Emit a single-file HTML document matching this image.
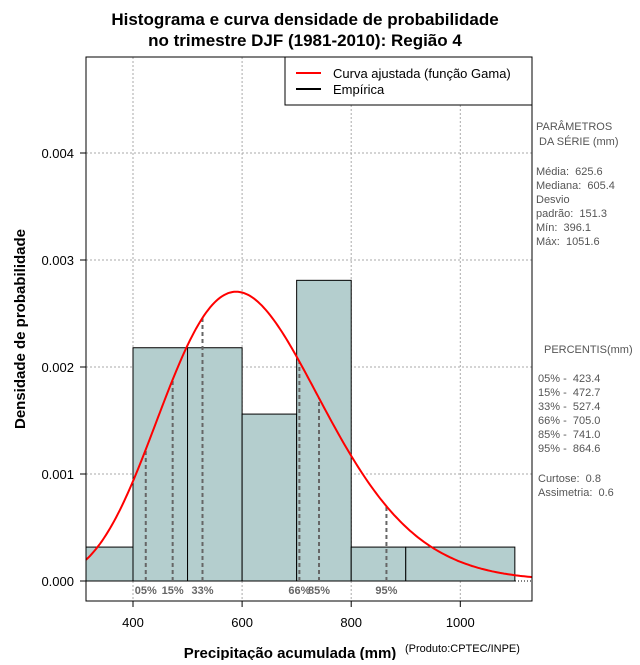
<!DOCTYPE html>
<html><head><meta charset="utf-8">
<style>
body{margin:0;background:#fff;font-family:"Liberation Sans",sans-serif;}
svg text{font-family:"Liberation Sans",sans-serif;white-space:pre;}
</style></head>
<body>
<svg id="c" width="640" height="660" xmlns="http://www.w3.org/2000/svg">
<text x="305" y="25" text-anchor="middle" font-size="17" font-weight="bold">Histograma e curva densidade de probabilidade</text>
<text x="305" y="46" text-anchor="middle" font-size="17" font-weight="bold">no trimestre DJF (1981-2010): Região 4</text>
<text x="290" y="658" text-anchor="middle" font-size="15" font-weight="bold">Precipitação acumulada (mm)</text>
<text x="405" y="652" font-size="11">(Produto:CPTEC/INPE)</text>
<text transform="translate(25,329) rotate(-90)" text-anchor="middle" font-size="15" font-weight="bold">Densidade de probabilidade</text>
<g id="grid"></g><g id="bars"></g><g id="pct"></g><g id="curve"></g><g id="axes"></g>
<g>
<rect x="285" y="57" width="247" height="48" fill="#fff" stroke="#000"/>
<line x1="296" y1="73" x2="321" y2="73" stroke="red" stroke-width="2"/>
<text x="333" y="78" font-size="13">Curva ajustada (função Gama)</text>
<line x1="296" y1="89" x2="321" y2="89" stroke="#000" stroke-width="2"/>
<text x="333" y="94" font-size="13">Empírica</text>
</g>
<g font-size="11" fill="#555">
<text x="536" y="130">PARÂMETROS</text><text x="536" y="145"> DA SÉRIE (mm)</text>
<text x="536" y="175">Média:  625.6</text><text x="536" y="189">Mediana:  605.4</text>
<text x="536" y="203">Desvio</text><text x="536" y="217">padrão:  151.3</text>
<text x="536" y="231">Mín:  396.1</text><text x="536" y="245">Máx:  1051.6</text>
<text x="544" y="353">PERCENTIS(mm)</text>
<text x="538" y="382">05% -  423.4</text><text x="538" y="396">15% -  472.7</text>
<text x="538" y="410">33% -  527.4</text><text x="538" y="424">66% -  705.0</text>
<text x="538" y="438">85% -  741.0</text><text x="538" y="452">95% -  864.6</text>
<text x="538" y="482">Curtose:  0.8</text><text x="538" y="496">Assimetria:  0.6</text>
</g>
</svg>
<script>
const binStarts=[300,400,500,600,700,800,900];
const binEnds=[400,500,600,700,800,900,1100];
const densities=[0.000317,0.00218,0.00218,0.00156,0.00281,0.000317,0.000317];
const pctNames=["05%","15%","33%","66%","85%","95%"];
const pctValues=[423.4,472.7,527.4,705.0,741.0,864.6];
const fitMean=[625.6];const fitSd=[151.3];
const xTicks=[400,600,800,1000];
const yTicks=[0,0.001,0.002,0.003,0.004];
const yTickLabels=["0.000","0.001","0.002","0.003","0.004"];
const L=86,R=532,T=57,B=601;
const X=v=>133+(v-400)*0.5455;
const Y=v=>581-v*107000;
const NS="http://www.w3.org/2000/svg";
function mk(p,t,a){const e=document.createElementNS(NS,t);for(const k in a)e.setAttribute(k,a[k]);document.getElementById(p).appendChild(e);return e;}
for(const t of xTicks){const e=mk('grid','line',{x1:X(t),x2:X(t),y1:T,y2:B,stroke:'#aaa','stroke-dasharray':'2,2'});

}
for(const t of yTicks.slice(1)){const e=mk('grid','line',{x1:L,x2:R,y1:Y(t),y2:Y(t),stroke:'#aaa','stroke-dasharray':'2,2'});

}
binStarts.forEach((s,i)=>{const x0=Math.max(X(s),L),x1=X(binEnds[i]);
const e=mk('bars','rect',{x:x0,y:Y(densities[i]),width:x1-x0,height:Y(0)-Y(densities[i]),fill:'#b4cece',stroke:'#000','stroke-width':1});

});
const z=mk('bars','line',{x1:L,x2:R,y1:Y(0),y2:Y(0),stroke:'#000','stroke-dasharray':'1,2'});


const k=Math.pow(fitMean[0]/fitSd[0],2),th=fitSd[0]*fitSd[0]/fitMean[0];
function lgamma(z){const c=[76.18009172947146,-86.50532032941677,24.01409824083091,-1.231739572450155,0.1208650973866179e-2,-0.5395239384953e-5];let x=z,y=z,t=x+5.5;t-=(x+0.5)*Math.log(t);let s=1.000000000190015;for(let j=0;j<6;j++)s+=c[j]/++y;return -t+Math.log(2.5066282746310005*s/x);}
const pdf=x=>Math.exp((k-1)*Math.log(x)-x/th-lgamma(k)-k*Math.log(th));
let d="";for(let px=L;px<=R;px+=2){const v=400+(px-133)/0.5455;d+=(d?"L":"M")+px+","+Y(pdf(v)).toFixed(1);}
const cv=mk('curve','path',{d:d,fill:'none',stroke:'red','stroke-width':2});


pctValues.forEach((p,i)=>{const e=mk('pct','line',{x1:X(p),x2:X(p),y1:Y(0),y2:Y(pdf(p)),stroke:'#666','stroke-width':2,'stroke-dasharray':'4,3'});


const t=mk('pct','text',{x:X(p),y:594,'text-anchor':'middle','font-size':11,'font-weight':'bold',fill:'#666'});t.textContent=pctNames[i];

});
const bx=mk('axes','rect',{x:L,y:T,width:R-L,height:B-T,fill:'none',stroke:'#000'});


xTicks.forEach(t=>{mk('axes','line',{x1:X(t),x2:X(t),y1:B,y2:B+6,stroke:'#000'});
const e=mk('axes','text',{x:X(t),y:627,'text-anchor':'middle','font-size':13});e.textContent=t;

});
yTicks.forEach((t,i)=>{mk('axes','line',{x1:L-6,x2:L,y1:Y(t),y2:Y(t),stroke:'#000'});
const e=mk('axes','text',{x:L-12,y:Y(t)+5,'text-anchor':'end','font-size':13});e.textContent=yTickLabels[i];

});
</script>
</body></html>
